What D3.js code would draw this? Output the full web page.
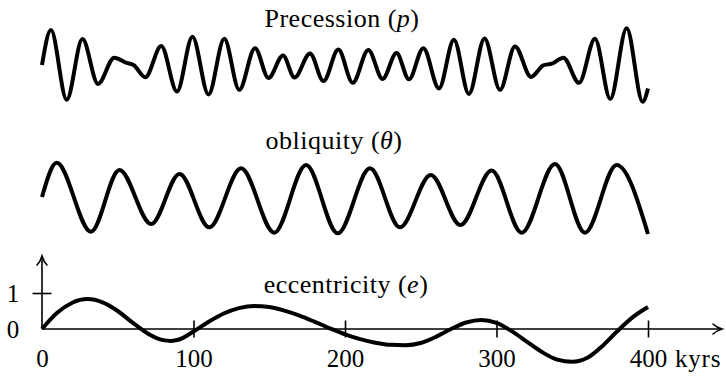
<!DOCTYPE html>
<html>
<head>
<meta charset="utf-8">
<script src="https://cdn.jsdelivr.net/npm/d3@7"></script>
<style>
  body { margin: 0; background: #fff; }
  svg { display: block; }
  text { font-family: "Liberation Serif", "DejaVu Serif", serif; fill: #000; }
</style>
</head>
<body>
<svg id="chart" width="726" height="376"></svg>
<script>
// Time axis (thousands of years)
const kyrTicks = [0, 100, 200, 300, 400];
const kyrTickLabels = ["0", "100", "200", "300", "400"];
const eccTicks = [0, 1];
const eccTickLabels = ["0", "1"];

// Precession index (relative units)
const precessionKyr = [0, 5.9, 16.3, 26.7, 37.0, 47.7, 55.8, 60.4, 68.2, 78.7, 89.1, 99.3, 109.9, 120.3,
  130.2, 140.6, 149.5, 159.1, 166.7, 176.9, 185.8, 195.6, 205.1, 215.4, 224.8, 234.0, 242.2, 251.7,
  262.0, 271.9, 281.8, 292.1, 302.3, 312.2, 322.8, 330.9, 336.6, 344.1, 354.5, 365.0, 375.1, 385.9,
  396.5, 400];
const precessionVal = [0, 1.00, -0.99, 0.74, -0.54, 0.21, 0.06, 0, -0.35, 0.54, -0.76, 0.81, -0.84, 0.75,
  -0.71, 0.48, -0.37, 0.27, -0.36, 0.33, -0.46, 0.44, -0.51, 0.43, -0.40, 0.34, -0.41, 0.48,
  -0.67, 0.72, -0.83, 0.76, -0.71, 0.53, -0.34, -0.01, 0.04, 0.21, -0.51, 0.75, -0.97, 1.05,
  -1.05, -0.67];

// Obliquity (relative units)
const obliquityKyr = [0, 9.7, 32.3, 51.1, 72.1, 90.8, 110.4, 131.4, 153.3, 174.3, 195.2, 216.5, 236.3,
  256.6, 276.2, 296.8, 316.6, 338.6, 358.4, 379.3, 400];
const obliquityVal = [0, 1.04, -1.05, 0.82, -0.82, 0.70, -0.92, 0.87, -1.08, 0.97, -1.10, 0.87, -0.92,
  0.67, -0.85, 0.80, -1.08, 1.00, -1.08, 0.97, -1.12];

// Eccentricity (relative units, 0–1 marked on the axis)
const eccentricityKyr = [0, 10, 20, 30, 40, 50, 60, 70, 80, 85, 90, 100, 110, 120, 130, 140, 150, 160, 170,
  180, 190, 200, 210, 220, 230, 240, 250, 260, 270, 280, 290, 300, 310, 320, 330, 340, 350, 360, 370,
  380, 390, 400];
const eccentricityVal = [0, 0.45, 0.73, 0.83, 0.74, 0.50, 0.17, -0.13, -0.31, -0.33, -0.30, -0.07, 0.20,
  0.43, 0.58, 0.64, 0.61, 0.51, 0.37, 0.20, 0.02, -0.15, -0.28, -0.38, -0.44, -0.45, -0.39, -0.22, 0.00,
  0.18, 0.25, 0.17, -0.06, -0.35, -0.64, -0.85, -0.91, -0.80, -0.47, -0.05, 0.33, 0.61];

const svg = d3.select("#chart");
const FONT = 25;
const TITLE_FONT = 26;

const x = d3.scaleLinear().domain([0, 400]).range([42, 648]);
const yPrec = d3.scaleLinear().domain([-1, 1]).range([100, 30]);
const yObl = d3.scaleLinear().domain([-1, 1]).range([230, 164]);
const yEcc = d3.scaleLinear().domain([0, 1]).range([329, 293]);

function drawSeries(kyr, vals, yScale) {
  const pts = kyr.map((k, i) => [k, vals[i]]);
  const line = d3.line()
    .x(d => x(d[0]))
    .y(d => yScale(d[1]))
    .curve(d3.curveMonotoneX);
  svg.append("path")
    .attr("d", line(pts))
    .attr("fill", "none")
    .attr("stroke", "#000")
    .attr("stroke-width", 4)
    .attr("stroke-linejoin", "round")
    .attr("stroke-linecap", "butt");
}

function title(cx, baseline, word, sym) {
  const t = svg.append("text")
    .attr("x", cx).attr("y", baseline)
    .attr("text-anchor", "middle")
    .attr("font-size", TITLE_FONT)
    .attr("letter-spacing", 0.5);
  t.append("tspan").text(word + " (");
  t.append("tspan").attr("font-style", "italic").text(sym);
  t.append("tspan").text(")");
}

// Arrowhead with curved barbs, tip at (tx, ty), pointing along angle (deg)
function arrow(tx, ty, angle) {
  svg.append("path")
    .attr("d", "M-9,-5 C-6,-2 -2,-0.6 0,0 C-2,0.6 -6,2 -9,5")
    .attr("transform", `translate(${tx},${ty}) rotate(${angle})`)
    .attr("fill", "none")
    .attr("stroke", "#000")
    .attr("stroke-width", 1.6)
    .attr("stroke-linecap", "round");
}

// Precession and obliquity panels
drawSeries(precessionKyr, precessionVal, yPrec);
title(342, 27, "Precession", "p");

drawSeries(obliquityKyr, obliquityVal, yObl);
title(334, 149, "obliquity", "θ");

// Eccentricity panel with axes
const axisY = yEcc(0);

const xAxis = svg.append("g")
  .attr("transform", `translate(0,${axisY})`)
  .call(d3.axisBottom(x).tickValues(kyrTicks).tickFormat((d, i) => kyrTickLabels[i]));
xAxis.select(".domain").remove();
xAxis.selectAll(".tick line")
  .attr("y1", -8.5).attr("y2", 8.5)
  .attr("stroke", "#000").attr("stroke-width", 1.6)
  .filter(d => d === 0).remove();
xAxis.selectAll(".tick text")
  .attr("y", 38).attr("dy", 0)
  .attr("font-size", FONT)
  .attr("font-family", null);
xAxis.attr("font-family", null).attr("font-size", null);

svg.append("line")
  .attr("x1", x(0)).attr("x2", 722)
  .attr("y1", axisY).attr("y2", axisY)
  .attr("stroke", "#000").attr("stroke-width", 1.6);
arrow(722, axisY, 0);

svg.append("text")
  .attr("x", 675).attr("y", axisY + 38)
  .attr("font-size", FONT)
  .attr("letter-spacing", 0.8)
  .text("kyrs");

const yAxis = svg.append("g")
  .attr("transform", `translate(${x(0)},0)`)
  .call(d3.axisLeft(yEcc).tickValues(eccTicks).tickFormat((d, i) => eccTickLabels[i]));
yAxis.select(".domain").remove();
yAxis.selectAll(".tick line")
  .attr("x1", -9.5).attr("x2", 9.5)
  .attr("stroke", "#000").attr("stroke-width", 1.6)
  .filter(d => d === 0).remove();
yAxis.selectAll(".tick text")
  .attr("x", -29).attr("dy", "0.35em")
  .attr("text-anchor", "middle")
  .attr("font-size", FONT)
  .attr("font-family", null);
yAxis.attr("font-family", null).attr("font-size", null);

svg.append("line")
  .attr("x1", x(0)).attr("x2", x(0))
  .attr("y1", axisY).attr("y2", 256)
  .attr("stroke", "#000").attr("stroke-width", 1.6);
arrow(x(0), 256, -90);

drawSeries(eccentricityKyr, eccentricityVal, yEcc);
title(346, 293, "eccentricity", "e");
</script>
</body>
</html>
